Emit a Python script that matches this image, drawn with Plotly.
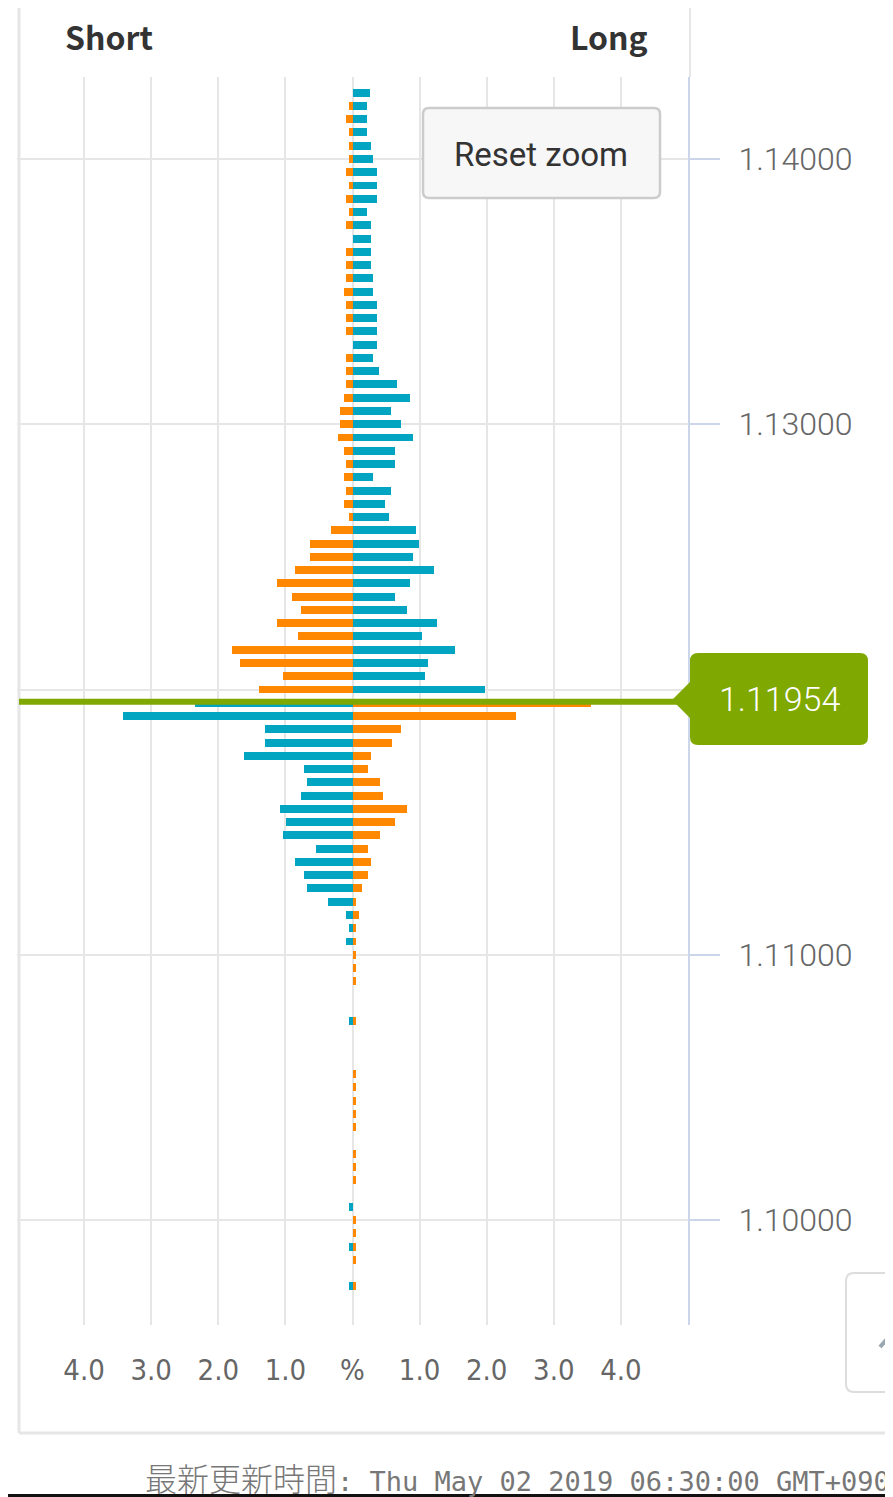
import plotly.graph_objects as go

# ---------------- data ----------------
prices = [
    1.1425, 1.1420, 1.1415, 1.1410, 1.1405, 1.1400, 1.1395, 1.1390, 1.1385, 1.1380,
    1.1375, 1.1370, 1.1365, 1.1360, 1.1355, 1.1350, 1.1345, 1.1340, 1.1335, 1.1330,
    1.1325, 1.1320, 1.1315, 1.1310, 1.1305, 1.1300, 1.1295, 1.1290, 1.1285, 1.1280,
    1.1275, 1.1270, 1.1265, 1.1260, 1.1255, 1.1250, 1.1245, 1.1240, 1.1235, 1.1230,
    1.1225, 1.1220, 1.1215, 1.1210, 1.1205, 1.1200, 1.1195, 1.1190, 1.1185, 1.1180,
    1.1175, 1.1170, 1.1165, 1.1160, 1.1155, 1.1150, 1.1145, 1.1140, 1.1135, 1.1130,
    1.1125, 1.1120, 1.1115, 1.1110, 1.1105, 1.1100, 1.1095, 1.1090, 1.1085, 1.1080,
    1.1075, 1.1070, 1.1065, 1.1060, 1.1055, 1.1050, 1.1045, 1.1040, 1.1035, 1.1030,
    1.1025, 1.1020, 1.1015, 1.1010, 1.1005, 1.1000, 1.0995, 1.0990, 1.0985, 1.0980,
    1.0975,
]

short_pct = [
    0, 0.05, 0.09, 0.05, 0.05, 0.05, 0.09, 0.05, 0.09, 0.05,
    0.09, 0, 0.09, 0.09, 0.09, 0.13, 0.09, 0.09, 0.09, 0,
    0.09, 0.09, 0.09, 0.13, 0.18, 0.18, 0.22, 0.13, 0.09, 0.13,
    0.09, 0.13, 0.05, 0.32, 0.63, 0.63, 0.86, 1.13, 0.90, 0.77,
    1.13, 0.81, 1.80, 1.67, 1.04, 1.40, 2.34, 3.42, 1.31, 1.31,
    1.62, 0.72, 0.68, 0.77, 1.08, 0.99, 1.04, 0.54, 0.86, 0.72,
    0.68, 0.36, 0.09, 0.05, 0.09, 0, 0, 0, 0, 0,
    0.05, 0, 0, 0, 0, 0, 0, 0, 0, 0,
    0, 0, 0, 0, 0.05, 0, 0, 0.05, 0, 0,
    0.05,
]

long_pct = [
    0.26, 0.22, 0.22, 0.22, 0.27, 0.31, 0.36, 0.36, 0.36, 0.22,
    0.27, 0.27, 0.27, 0.27, 0.31, 0.31, 0.36, 0.36, 0.36, 0.36,
    0.31, 0.40, 0.67, 0.85, 0.58, 0.72, 0.90, 0.63, 0.63, 0.31,
    0.58, 0.49, 0.54, 0.95, 0.99, 0.90, 1.22, 0.86, 0.63, 0.81,
    1.26, 1.04, 1.53, 1.13, 1.08, 1.98, 3.55, 2.43, 0.72, 0.59,
    0.27, 0.23, 0.41, 0.45, 0.81, 0.63, 0.41, 0.23, 0.27, 0.23,
    0.14, 0.05, 0.09, 0.05, 0.05, 0.05, 0.05, 0.05, 0, 0,
    0.05, 0, 0, 0, 0.05, 0.05, 0.05, 0.05, 0.05, 0,
    0.05, 0.05, 0.05, 0, 0, 0.05, 0.05, 0.05, 0.05, 0,
    0.05,
]

current_price = 1.11954
x_tick_vals = [-5, -4, -3, -2, -1, 0, 1, 2, 3, 4, 5]
x_tick_text = ["", "4.0", "3.0", "2.0", "1.0", "%", "1.0", "2.0", "3.0", "4.0", ""]
y_tick_vals = [1.10, 1.11, 1.12, 1.13, 1.14]
y_tick_text = ["1.10000", "1.11000", "", "1.13000", "1.14000"]
footer_label = "最新更新時間"
footer_time = ": Thu May 02 2019 06:30:00 GMT+0900"

# ---------------- styling ----------------
ORANGE = "#ff8800"
TEAL = "#02a5c1"
GREEN = "#7fa800"
GRID = "#e6e6e6"
AXIS = "#ccd6eb"

OFF = 8                      # page body margin: figure starts at page (8, 8)
W, H = 893, 1497
L, R, T, B = 17 - OFF, 688 - OFF, 77 - OFF, 1325 - OFF   # plot area in figure px
PW, PH = R - L, B - T


def px(x):
    """page-pixel x of the reference -> paper coordinate"""
    return (x - OFF - L) / PW


def py(y):
    """page-pixel y of the reference -> paper coordinate"""
    return (B - (y - OFF)) / PH


left_colors = [ORANGE if p > current_price else TEAL for p in prices]
right_colors = [TEAL if p > current_price else ORANGE for p in prices]

fig = go.Figure()
fig.add_trace(go.Bar(
    y=prices, x=[-v for v in short_pct], orientation="h", width=0.0003,
    marker=dict(color=left_colors, line=dict(width=0)), name="Short",
    hoverinfo="skip", showlegend=False,
))
fig.add_trace(go.Bar(
    y=prices, x=long_pct, orientation="h", width=0.0003,
    marker=dict(color=right_colors, line=dict(width=0)), name="Long",
    hoverinfo="skip", showlegend=False,
))


def rounded_path(x0, y0, x1, y1, r):
    return (f"M {px(x0)},{py(y0 + r)} "
            f"Q {px(x0)},{py(y0)} {px(x0 + r)},{py(y0)} "
            f"L {px(x1 - r)},{py(y0)} "
            f"Q {px(x1)},{py(y0)} {px(x1)},{py(y0 + r)} "
            f"L {px(x1)},{py(y1 - r)} "
            f"Q {px(x1)},{py(y1)} {px(x1 - r)},{py(y1)} "
            f"L {px(x0 + r)},{py(y1)} "
            f"Q {px(x0)},{py(y1)} {px(x0)},{py(y1 - r)} Z")


label_path = (f"M {px(690)},{py(682)} L {px(672)},{py(700)} L {px(690)},{py(718)} "
              f"L {px(690)},{py(737)} Q {px(690)},{py(745)} {px(698)},{py(745)} "
              f"L {px(860)},{py(745)} Q {px(868)},{py(745)} {px(868)},{py(737)} "
              f"L {px(868)},{py(661)} Q {px(868)},{py(653)} {px(860)},{py(653)} "
              f"L {px(698)},{py(653)} Q {px(690)},{py(653)} {px(690)},{py(661)} Z")

shapes = [
    # container borders
    dict(type="line", xref="paper", yref="paper", x0=px(19), x1=px(19), y0=py(OFF), y1=py(1433),
         line=dict(color=GRID, width=3)),
    dict(type="line", xref="paper", yref="paper", x0=px(19), x1=px(W + OFF), y0=py(1433), y1=py(1433),
         line=dict(color=GRID, width=3)),
    dict(type="line", xref="paper", yref="paper", x0=px(690), x1=px(690), y0=py(OFF), y1=py(77),
         line=dict(color=GRID, width=2)),
    dict(type="rect", xref="paper", yref="paper", x0=px(OFF), x1=px(W + OFF), y0=py(1505), y1=py(1494),
         line=dict(width=0), fillcolor="#111111"),
    # current price line
    dict(type="line", xref="paper", yref="y", x0=px(19), x1=1, y0=current_price, y1=current_price,
         line=dict(color=GREEN, width=6), layer="above"),
    # current price label
    dict(type="path", xref="paper", yref="paper", path=label_path,
         fillcolor=GREEN, line=dict(width=0), layer="above"),
    # reset zoom button
    dict(type="path", xref="paper", yref="paper", path=rounded_path(423, 108, 660, 198, 6),
         fillcolor="#f7f7f7", line=dict(color="#cccccc", width=2.5), layer="above"),
    # partial button bottom right
    dict(type="path", xref="paper", yref="paper", path=rounded_path(846, 1273, 910, 1392, 8),
         fillcolor="#ffffff", line=dict(color="#dddddd", width=2), layer="above"),
    dict(type="line", xref="paper", yref="paper", x0=px(880), x1=px(893), y0=py(1347), y1=py(1332),
         line=dict(color="#9aa7b0", width=4), layer="above"),
]

title_font = dict(family="Noto Sans CJK JP", size=32, color="#333333")
annotations = [
    dict(text="<b>Short</b>", xref="paper", yref="paper", x=px(109), y=py(36),
         xanchor="center", yanchor="middle", showarrow=False, font=title_font),
    dict(text="<b>Long</b>", xref="paper", yref="paper", x=px(609), y=py(36),
         xanchor="center", yanchor="middle", showarrow=False, font=title_font),
    dict(text=f"{current_price:.5f}", xref="paper", yref="paper", x=px(779), y=py(699),
         xanchor="center", yanchor="middle", showarrow=False,
         font=dict(family="Roboto", size=34, color="#ffffff", weight=300)),
    dict(text="Reset zoom", xref="paper", yref="paper", x=px(541), y=py(154),
         xanchor="center", yanchor="middle", showarrow=False,
         font=dict(family="Roboto", size=33, color="#333333")),
    dict(text=(f"{footer_label}<span style='font-family:DejaVu Sans Mono;font-size:27px'>"
               f"{footer_time}</span>"),
         xref="paper", yref="paper", x=px(143), y=py(1477),
         xanchor="left", yanchor="middle", showarrow=False,
         font=dict(family="Noto Sans CJK JP", size=32, color="#777777", weight=300)),
]

fig.update_layout(
    width=W, height=H,
    margin=dict(l=L, r=W - R, t=T, b=H - B, pad=0),
    paper_bgcolor="#ffffff", plot_bgcolor="#ffffff",
    barmode="overlay", bargap=0,
    showlegend=False,
    shapes=shapes, annotations=annotations,
    xaxis=dict(
        range=[-5, 5], tickmode="array", tickvals=x_tick_vals, ticktext=x_tick_text,
        showgrid=True, gridcolor=GRID, gridwidth=2, zeroline=False, showline=False,
        ticks="", ticklabelstandoff=25, fixedrange=True,
        tickfont=dict(family="DejaVu Sans Condensed", size=29, color="#666666"),
    ),
    yaxis=dict(
        range=[1.096042, 1.143091], side="right", tickmode="array",
        tickvals=y_tick_vals, ticktext=y_tick_text,
        showgrid=True, gridcolor=GRID, gridwidth=2, zeroline=False,
        showline=True, linecolor=AXIS, linewidth=2,
        ticks="outside", ticklen=30, tickcolor=AXIS, tickwidth=2,
        ticklabelstandoff=12, fixedrange=True,
        tickfont=dict(family="Roboto", size=32, color="#666666", weight=300),
    ),
)

fig.write_html("out.html")
